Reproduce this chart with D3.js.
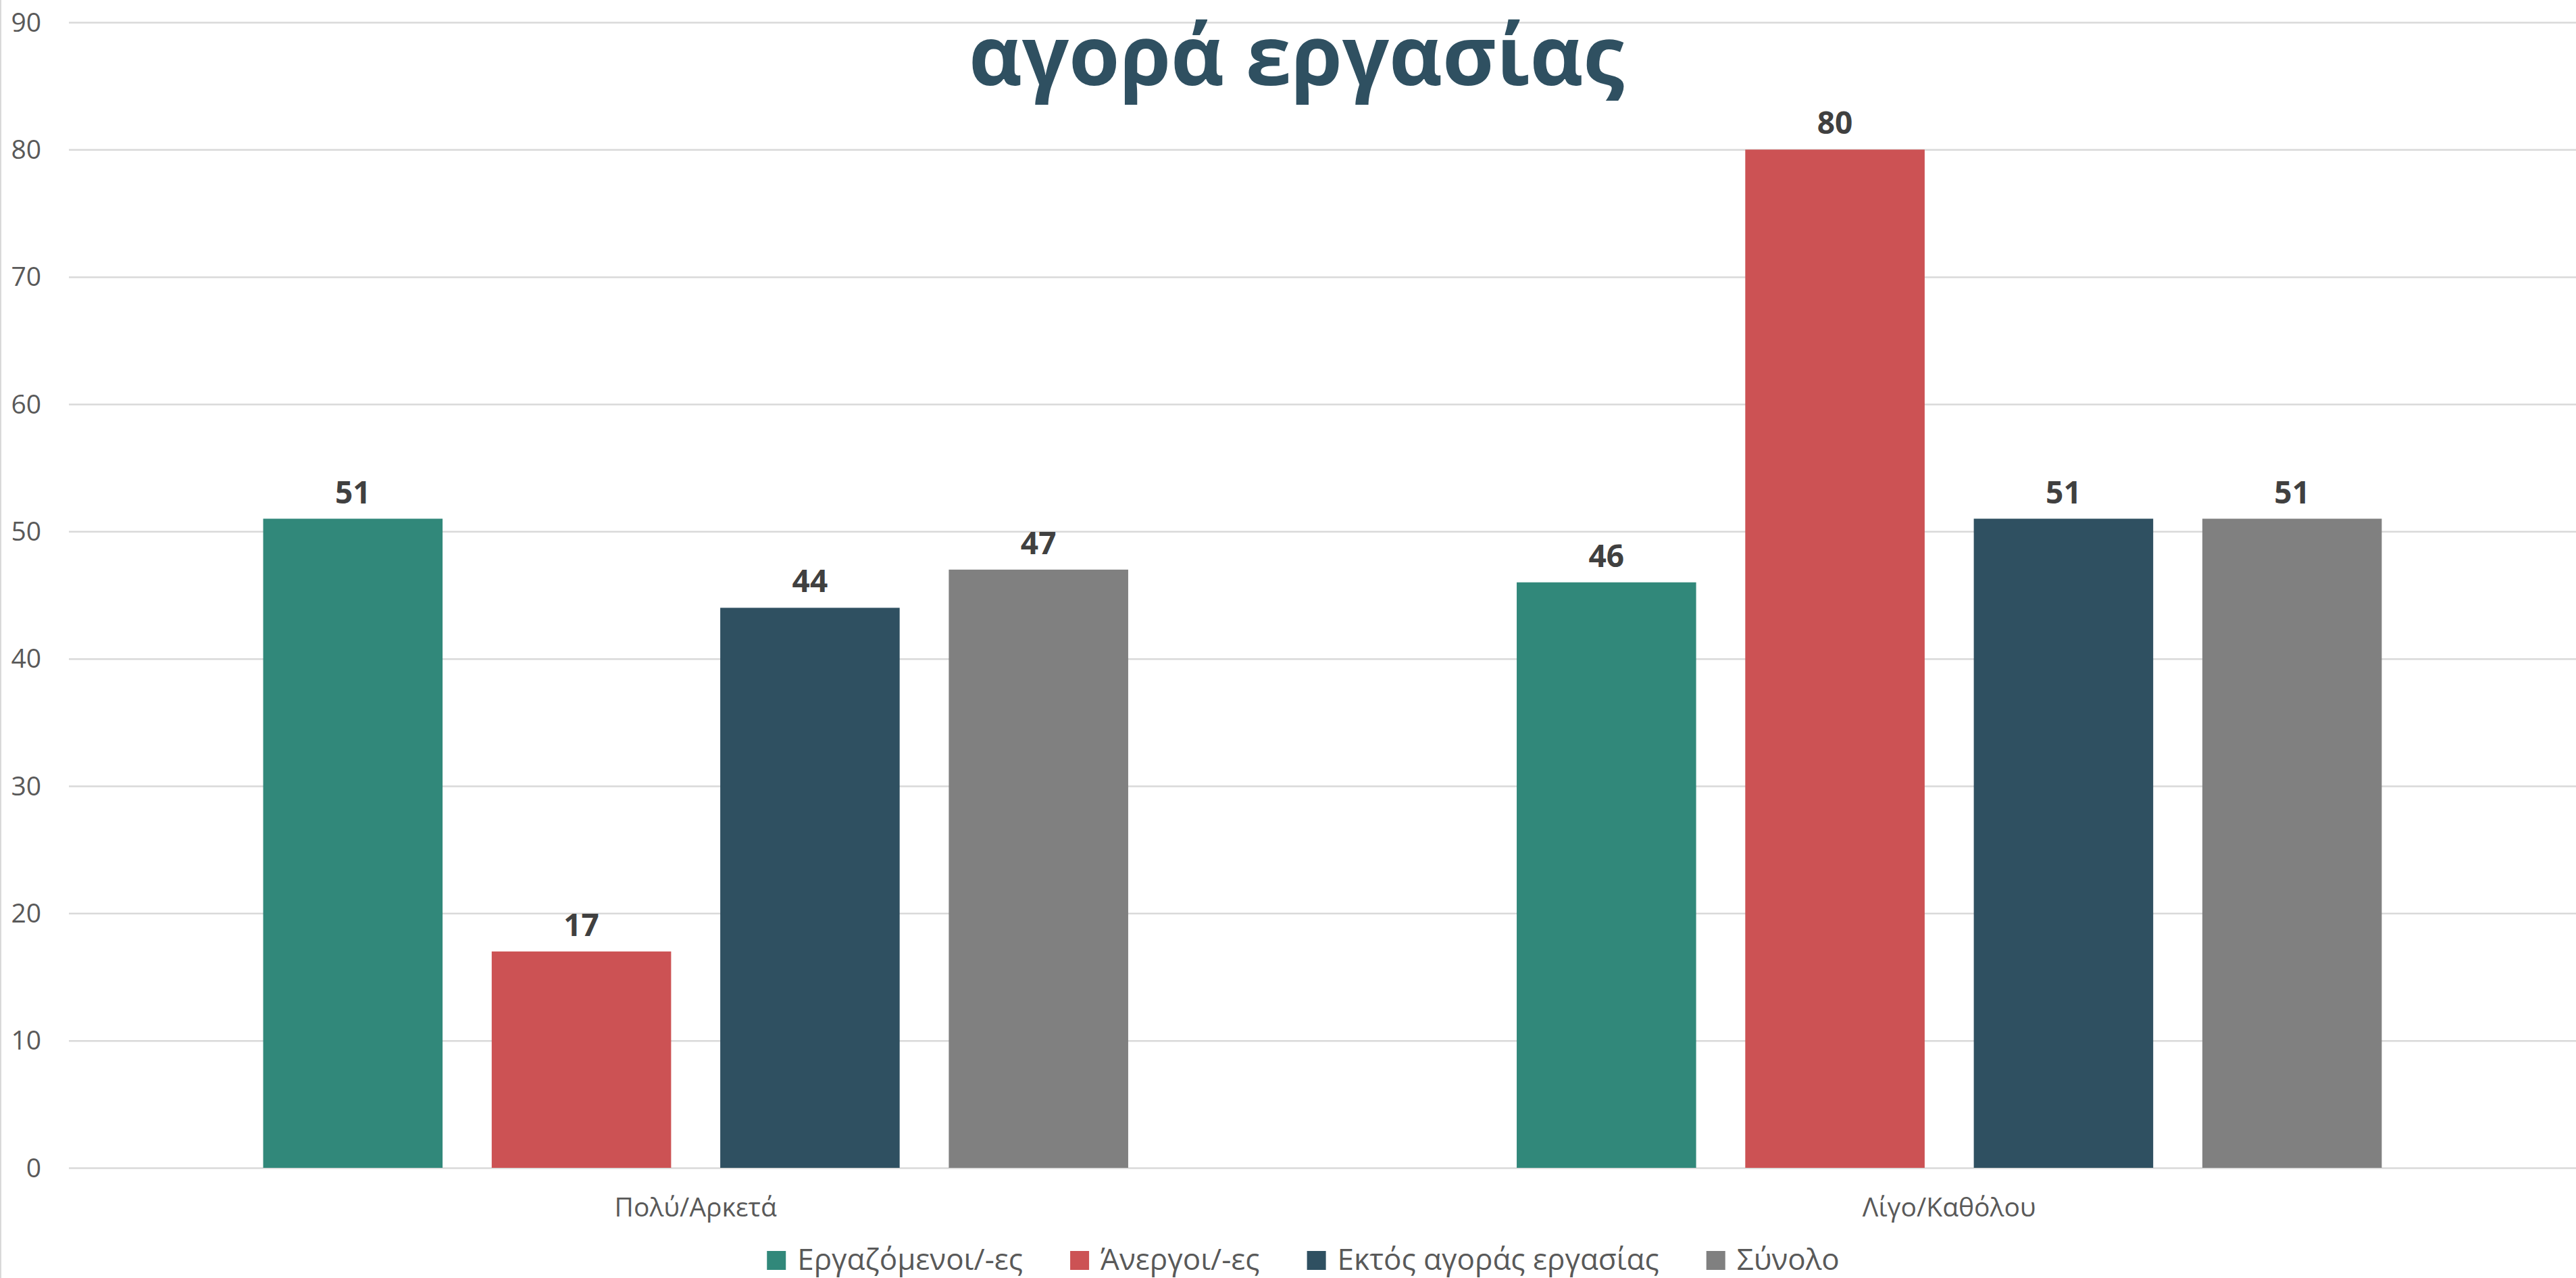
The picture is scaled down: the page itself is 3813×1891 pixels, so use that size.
<!DOCTYPE html>
<html>
<head>
<meta charset="utf-8">
<script src="https://cdn.jsdelivr.net/npm/d3@7"></script>
<style>
  html, body { margin: 0; padding: 0; background: #ffffff; }
  svg { display: block; }
  text { font-family: "Open Sans", "Noto Sans", sans-serif; }
</style>
</head>
<body>
<svg id="chart" width="3813" height="1891"></svg>
<script>
const title = "αγορά εργασίας";
const categories = ["Πολύ/Αρκετά", "Λίγο/Καθόλου"];
const seriesNames = ["Εργαζόμενοι/-ες", "Άνεργοι/-ες", "Εκτός αγοράς εργασίας", "Σύνολο"];
const seriesColors = ["#31887A", "#CC5254", "#2F5061", "#808080"];
const employed = [51, 46];
const unemployed = [17, 80];
const outsideLabour = [44, 51];
const total = [47, 51];
const yTicks = [0, 10, 20, 30, 40, 50, 60, 70, 80, 90];

const seriesValues = [employed, unemployed, outsideLabour, total];

const W = 3813, H = 1891;
const plotLeft = 102, plotRight = 3813, plotTop = 33, plotBottom = 1728;

const svg = d3.select("#chart");
svg.append("rect").attr("x", 0).attr("y", 0).attr("width", W).attr("height", H).attr("fill", "#fff");
// left border
svg.append("line").attr("x1", 1).attr("x2", 1).attr("y1", 0).attr("y2", H)
  .attr("stroke", "#D9D9D9").attr("stroke-width", 2);

const x0 = d3.scaleBand().domain(categories).range([plotLeft, plotRight]).padding(0);
const x1 = d3.scaleBand().domain(seriesNames).range([0, x0.bandwidth()])
  .paddingInner(0.215).paddingOuter(0.85);
const y = d3.scaleLinear().domain([0, 90]).range([plotBottom, plotTop]);

// y axis with gridlines
const yAxis = svg.append("g").attr("transform", `translate(${plotLeft},0)`)
  .call(d3.axisLeft(y).tickValues(yTicks).tickSize(-(plotRight - plotLeft)).tickPadding(41));
yAxis.select(".domain").remove();
yAxis.selectAll(".tick line").attr("stroke", "#D9D9D9").attr("stroke-width", 2.5);
yAxis.selectAll(".tick text").attr("fill", "#595959").style("font-size", "39px")
  .style("font-family", "'Open Sans', sans-serif").attr("dy", "0.34em");

// bars
const groups = svg.append("g").selectAll("g").data(categories).join("g")
  .attr("transform", d => `translate(${x0(d)},0)`);

groups.each(function(cat, ci) {
  const g = d3.select(this);
  const data = seriesNames.map((s, si) => ({ s, si, v: seriesValues[si][ci] }));
  g.selectAll("rect").data(data).join("rect")
    .attr("x", d => x1(d.s))
    .attr("width", x1.bandwidth())
    .attr("y", d => y(d.v))
    .attr("height", d => y(0) - y(d.v))
    .attr("fill", d => seriesColors[d.si]);
  g.selectAll("text.lbl").data(data).join("text").attr("class", "lbl")
    .attr("x", d => x1(d.s) + x1.bandwidth() / 2)
    .attr("y", d => y(d.v) - 23)
    .attr("text-anchor", "middle")
    .attr("fill", "#404040")
    .style("font-size", "46px")
    .style("font-weight", "700")
    .text(d => d.v);
});

// x axis (category labels)
const xAxis = svg.append("g").attr("transform", `translate(0,${plotBottom})`)
  .call(d3.axisBottom(x0).tickSize(0));
xAxis.select(".domain").remove();
xAxis.selectAll(".tick text").attr("y", 72).attr("dy", 0)
  .attr("fill", "#595959").style("font-size", "39px")
  .style("font-family", "'Open Sans', sans-serif");

// title
svg.append("text").attr("x", 1919).attr("y", 126).attr("text-anchor", "middle")
  .attr("fill", "#2F5061").style("font-size", "122px").style("font-weight", "700")
  .text(title);

// legend
const legend = svg.append("g");
const sq = 28, gapText = 17, gapItem = 70, legendBaseline = 1879;
const items = legend.selectAll("g").data(seriesNames).join("g");
items.append("rect").attr("width", sq).attr("height", sq).attr("y", legendBaseline - sq)
  .attr("fill", (d, i) => seriesColors[i]);
items.append("text").attr("x", sq + gapText).attr("y", legendBaseline)
  .attr("fill", "#595959").style("font-size", "44px").text(d => d);
let widths = [];
items.each(function() { widths.push(sq + gapText + d3.select(this).select("text").node().getComputedTextLength()); });
const totalW = d3.sum(widths) + gapItem * (widths.length - 1);
let cx = 1929 - totalW / 2;
items.attr("transform", (d, i) => {
  const t = `translate(${cx},0)`;
  cx += widths[i] + gapItem;
  return t;
});
</script>
</body>
</html>
